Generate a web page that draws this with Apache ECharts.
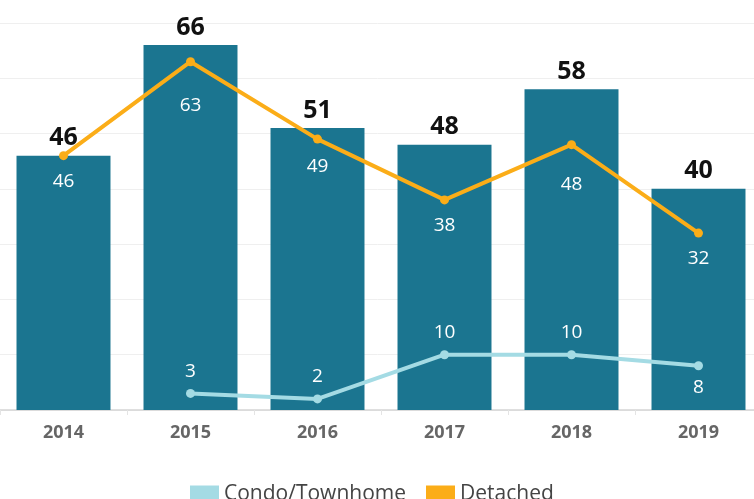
<!DOCTYPE html>
<html>
<head>
<meta charset="utf-8">
<script src="https://cdn.jsdelivr.net/npm/echarts@6/dist/echarts.min.js"></script>
<style>
  html, body { margin: 0; padding: 0; background: #fff; }
  #chart { width: 754px; height: 499px; }
</style>
</head>
<body>
<div id="chart"></div>
<script>
var years = ['2014', '2015', '2016', '2017', '2018', '2019'];
var totals = [46, 66, 51, 48, 58, 40];
var detached = [46, 63, 49, 38, 48, 32];
var condo = [null, 3, 2, 10, 10, 8];

// label placement tweaks, separate from the values
var detachedLabelDist = [12, 30, 13, 12, 26, 12];
var condoLabelPos = ['top', 'top', 'top', 'top', 'top', 'bottom'];

var fontName = 'Open Sans';

var myChart = echarts.init(document.getElementById('chart'));
var option = {
    animation: false,
    textStyle: { fontFamily: fontName },
    grid: {
        left: 0,
        width: 762,
        top: 23,
        bottom: 89,
        containLabel: false,
        outerBoundsMode: 'none'
    },
    legend: {
        data: ['Condo/Townhome', 'Detached'],
        top: 479,
        left: 185,
        itemWidth: 29,
        itemHeight: 18,
        itemGap: 20,
        icon: 'rect',
        textStyle: { fontSize: 21, color: '#444', fontFamily: fontName }
    },
    xAxis: {
        type: 'category',
        data: years,
        axisLine: { lineStyle: { color: '#d4d4d4', width: 1.5 } },
        axisTick: { show: true, length: 5, lineStyle: { color: '#e4e4e4' } },
        axisLabel: {
            color: '#666',
            fontSize: 18,
            fontWeight: 'bold',
            margin: 14,
            fontFamily: fontName
        }
    },
    yAxis: {
        type: 'value',
        min: 0,
        max: 70,
        interval: 10,
        axisLabel: { show: false },
        axisLine: { show: false },
        axisTick: { show: false },
        splitLine: { lineStyle: { color: '#efefef', width: 1 } }
    },
    series: [
        {
            name: 'Total',
            type: 'bar',
            barWidth: '74%',
            itemStyle: { color: '#1b7590' },
            label: {
                show: true,
                position: 'top',
                distance: 5,
                color: '#111',
                fontSize: 25,
                fontWeight: 'bold',
                fontFamily: fontName
            },
            data: totals,
            z: 1
        },
        {
            name: 'Detached',
            type: 'line',
            color: '#fbad18',
            symbol: 'circle',
            symbolSize: 9,
            lineStyle: { width: 4, color: '#fbad18' },
            itemStyle: { color: '#fbad18' },
            label: {
                show: true,
                position: 'bottom',
                color: '#fff',
                fontSize: 19,
                fontFamily: fontName
            },
            data: detached.map(function (v, i) {
                return { value: v, label: { distance: detachedLabelDist[i] } };
            }),
            z: 3
        },
        {
            name: 'Condo/Townhome',
            type: 'line',
            color: '#a4dbe4',
            symbol: 'circle',
            symbolSize: 9,
            lineStyle: { width: 4, color: '#a4dbe4' },
            itemStyle: { color: '#a4dbe4' },
            label: {
                show: true,
                distance: 8,
                color: '#fff',
                fontSize: 19,
                fontFamily: fontName
            },
            data: condo.map(function (v, i) {
                return { value: v, label: { position: condoLabelPos[i] } };
            }),
            z: 3
        }
    ]
};
myChart.setOption(option);
</script>
</body>
</html>
